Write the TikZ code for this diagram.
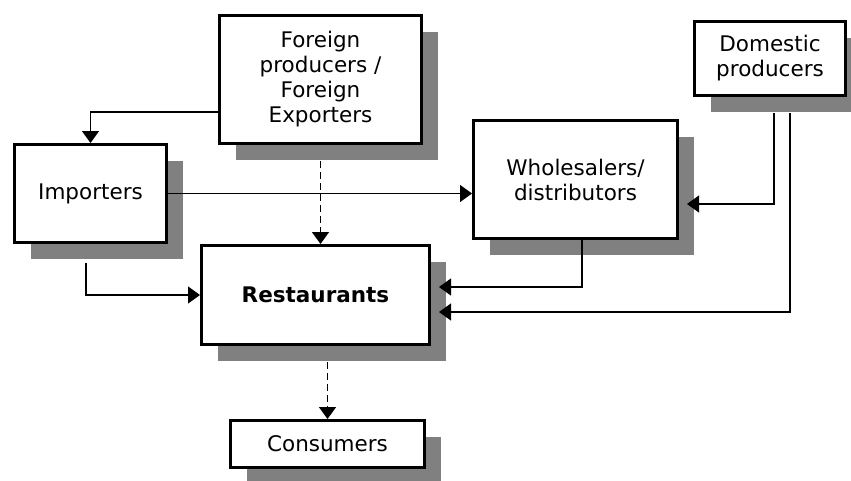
\documentclass[tikz,border=0pt]{standalone}
\usepackage{fontspec}
\setmainfont{DejaVu Sans}
\usepackage{tikz}
\usetikzlibrary{positioning}
\usetikzlibrary{arrows.meta}
\usetikzlibrary{shadows}

\tikzset{
box/.style={draw,line width=3pt,fill=white,align=center,inner sep=0pt,
  font=\fontsize{21.5}{25}\selectfont,
  drop shadow={shadow xshift=16pt,shadow yshift=-16pt,fill=gray,opacity=1}},
arr/.style={line width=1.2pt,-{Triangle[length=12pt,width=17pt]}},
dasharr/.style={arr,line width=1.5pt,dash pattern=on 7pt off 4pt}
}

\begin{document}
\begin{tikzpicture}[x=1pt,y=-1pt]
\useasboundingbox (0,0) rectangle (851,480);
\node [box,minimum width=202pt,minimum height=128pt] (foreign) at (320.5,79.5) {Foreign\\producers /\\Foreign\\Exporters};
\node [box,minimum width=152pt,minimum height=98pt] (importers) at (90.5,193.5) {Importers};
\node [box,minimum width=204pt,minimum height=118pt] (wholesalers) at (575.5,179.5) {Wholesalers/\\distributors};
\node [box,minimum width=151pt,minimum height=74pt] (domestic) at (770,58.5) {Domestic\\producers};
\node [box,minimum width=228pt,minimum height=99pt] (restaurants) at (315.5,295) {\textbf{Restaurants}};
\node [box,minimum width=194pt,minimum height=47pt] (consumers) at (327.5,444) {Consumers};
\coordinate (rs) at ([yshift=-16pt]restaurants.south);
\draw [arr] ([yshift=-32.5pt]foreign.west) -| (importers.north);
\draw [arr] (importers.east) -- (importers.east -| wholesalers.west);
\draw [dasharr] ([yshift=-16pt]foreign.south) -- (foreign.south |- restaurants.north);
\draw [arr] ([xshift=-4.5pt,yshift=-19pt]importers.south) |- (restaurants.west);
\draw [arr] ([xshift=6.5pt]wholesalers.south) |- ([xshift=8pt,yshift=8pt]restaurants.east);
\draw [arr] ([xshift=4pt,yshift=-16pt]domestic.south) |- ([xshift=8pt,yshift=-24.5pt]wholesalers.east);
\draw [arr] ([xshift=20pt,yshift=-16pt]domestic.south) |- ([xshift=8pt,yshift=-17pt]restaurants.east);
\draw [dasharr] (rs -| consumers.north) -- (consumers.north);
\end{tikzpicture}
\end{document}
